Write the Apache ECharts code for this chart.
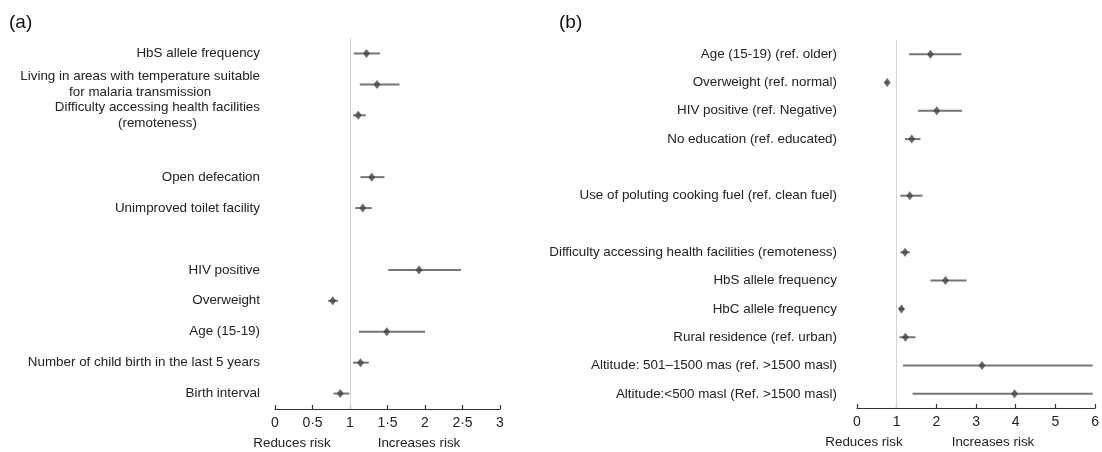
<!DOCTYPE html>
<html><head><meta charset="utf-8">
<script src="https://cdn.jsdelivr.net/npm/echarts@6/dist/echarts.min.js"></script>
<style>html,body{margin:0;padding:0;background:#fff}#c{width:1102px;height:452px}</style>
</head><body><div id="c"></div>
<script>
// Panel (a)
const catsA = ['HbS allele frequency', 'Living in areas with temperature suitable\nfor malaria transmission', 'Difficulty accessing health facilities\n(remoteness)', ' ', 'Open defecation', 'Unimproved toilet facility', '  ', 'HIV positive', 'Overweight', 'Age (15-19)', 'Number of child birth in the last 5 years', 'Birth interval'];
const orA = [1.22, 1.36, 1.11, null, 1.29, 1.17, null, 1.92, 0.77, 1.49, 1.14, 0.87];
const loA = [1.05, 1.13, 1.04, null, 1.14, 1.07, null, 1.51, 0.71, 1.12, 1.04, 0.78];
const hiA = [1.40, 1.66, 1.21, null, 1.46, 1.29, null, 2.48, 0.84, 2.00, 1.25, 0.99];
const ticksA = [0, 0.5, 1, 1.5, 2, 2.5, 3];
// Panel (b)
const catsB = ['Age (15-19) (ref. older)', 'Overweight (ref. normal)', 'HIV positive (ref. Negative)', 'No education (ref. educated)', ' ', 'Use of poluting cooking fuel (ref. clean fuel)', '  ', 'Difficulty accessing health facilities (remoteness)', 'HbS allele frequency', 'HbC allele frequency', 'Rural residence (ref. urban)', 'Altitude: 501–1500 mas (ref. >1500 masl)', 'Altitude:<500 masl (Ref. >1500 masl)'];
const orB = [1.85, 0.76, 2.01, 1.38, null, 1.33, null, 1.21, 2.23, 1.12, 1.22, 3.15, 3.97];
const loB = [1.31, 0.73, 1.54, 1.21, null, 1.09, null, 1.09, 1.85, 1.06, 1.07, 1.16, 1.40];
const hiB = [2.63, 0.79, 2.65, 1.60, null, 1.65, null, 1.33, 2.76, 1.19, 1.47, 5.94, 5.94];
const ticksB = [0, 1, 2, 3, 4, 5, 6];
const refValue = 1;

const FONT = 'Liberation Sans, Arial, Helvetica, sans-serif';
const LBL = 13.4;
const chart = echarts.init(document.getElementById('c'));

function catLabel(v) {
  if (!v.trim()) return '';
  return v.split('\n').map(s => '{c|' + s + '}').join('\n');
}
function ciData(lo, hi) {
  const d = [];
  lo.forEach((l, i) => { if (l != null) d.push([l, hi[i], i]); });
  return d;
}
function ptData(or) {
  const d = [];
  or.forEach((v, i) => { if (v != null) d.push([v, i]); });
  return d;
}
function renderCI(params, api) {
  const a = api.coord([api.value(0), api.value(2)]);
  const b = api.coord([api.value(1), api.value(2)]);
  return { type: 'line', shape: { x1: a[0], y1: a[1], x2: b[0], y2: b[1] },
    style: { stroke: '#767676', lineWidth: 2 } };
}
function xAxisCfg(grid, ticks) {
  return {
    type: 'value', gridIndex: grid, min: ticks[0], max: ticks[ticks.length - 1],
    interval: ticks[1] - ticks[0],
    axisLine: { show: true, lineStyle: { color: '#333', width: 1.2 } },
    axisTick: { show: true, inside: true, length: 4, lineStyle: { color: '#333', width: 1.2 } },
    splitLine: { show: false },
    axisLabel: { color: '#222', fontFamily: FONT, fontSize: 14, margin: 7,
      formatter: v => String(v).replace('.', '·') }
  };
}
function yAxisCfg(grid, cats, margin) {
  return {
    type: 'category', gridIndex: grid, data: cats, inverse: true,
    axisLine: { show: false }, axisTick: { show: false }, splitLine: { show: false },
    axisLabel: { color: '#222', fontFamily: FONT, fontSize: LBL, margin: margin, interval: 0,
      formatter: catLabel, lineHeight: 15.5,
      rich: { c: { align: 'center', fontFamily: FONT, fontSize: LBL, color: '#222', lineHeight: 15.5 } } }
  };
}

chart.setOption({
  animation: false,
  grid: [
    { left: 275, width: 225, top: 38, height: 371 },
    { left: 857, width: 240, top: 40, height: 368 }
  ],
  xAxis: [xAxisCfg(0, ticksA), xAxisCfg(1, ticksB)],
  yAxis: [yAxisCfg(0, catsA, 15), yAxisCfg(1, catsB, 20)],
  series: [
    { type: 'custom', xAxisIndex: 0, yAxisIndex: 0, renderItem: renderCI,
      encode: { x: [0, 1], y: 2 }, data: ciData(loA, hiA), z: 2 },
    { type: 'scatter', xAxisIndex: 0, yAxisIndex: 0, symbol: 'diamond', symbolSize: [7, 9],
      itemStyle: { color: '#444' }, data: ptData(orA), z: 3,
      markLine: { silent: true, symbol: 'none', label: { show: false },
        lineStyle: { color: '#d4d4d4', width: 1, type: 'solid' }, data: [{ xAxis: refValue }] } },
    { type: 'custom', xAxisIndex: 1, yAxisIndex: 1, renderItem: renderCI,
      encode: { x: [0, 1], y: 2 }, data: ciData(loB, hiB), z: 2 },
    { type: 'scatter', xAxisIndex: 1, yAxisIndex: 1, symbol: 'diamond', symbolSize: [7, 9],
      itemStyle: { color: '#444' }, data: ptData(orB), z: 3,
      markLine: { silent: true, symbol: 'none', label: { show: false },
        lineStyle: { color: '#d4d4d4', width: 1, type: 'solid' }, data: [{ xAxis: refValue }] } }
  ],
  graphic: [
    { type: 'text', left: 9, top: 13, style: { text: '(a)', font: '19px ' + FONT, fill: '#111' } },
    { type: 'text', left: 559, top: 13, style: { text: '(b)', font: '19px ' + FONT, fill: '#111' } },
    { type: 'text', x: 292, y: 443, style: { text: 'Reduces risk', font: LBL + 'px ' + FONT, fill: '#222', align: 'center', verticalAlign: 'middle' } },
    { type: 'text', x: 419, y: 443, style: { text: 'Increases risk', font: LBL + 'px ' + FONT, fill: '#222', align: 'center', verticalAlign: 'middle' } },
    { type: 'text', x: 864, y: 442, style: { text: 'Reduces risk', font: LBL + 'px ' + FONT, fill: '#222', align: 'center', verticalAlign: 'middle' } },
    { type: 'text', x: 993, y: 442, style: { text: 'Increases risk', font: LBL + 'px ' + FONT, fill: '#222', align: 'center', verticalAlign: 'middle' } }
  ]
});
</script></body></html>
